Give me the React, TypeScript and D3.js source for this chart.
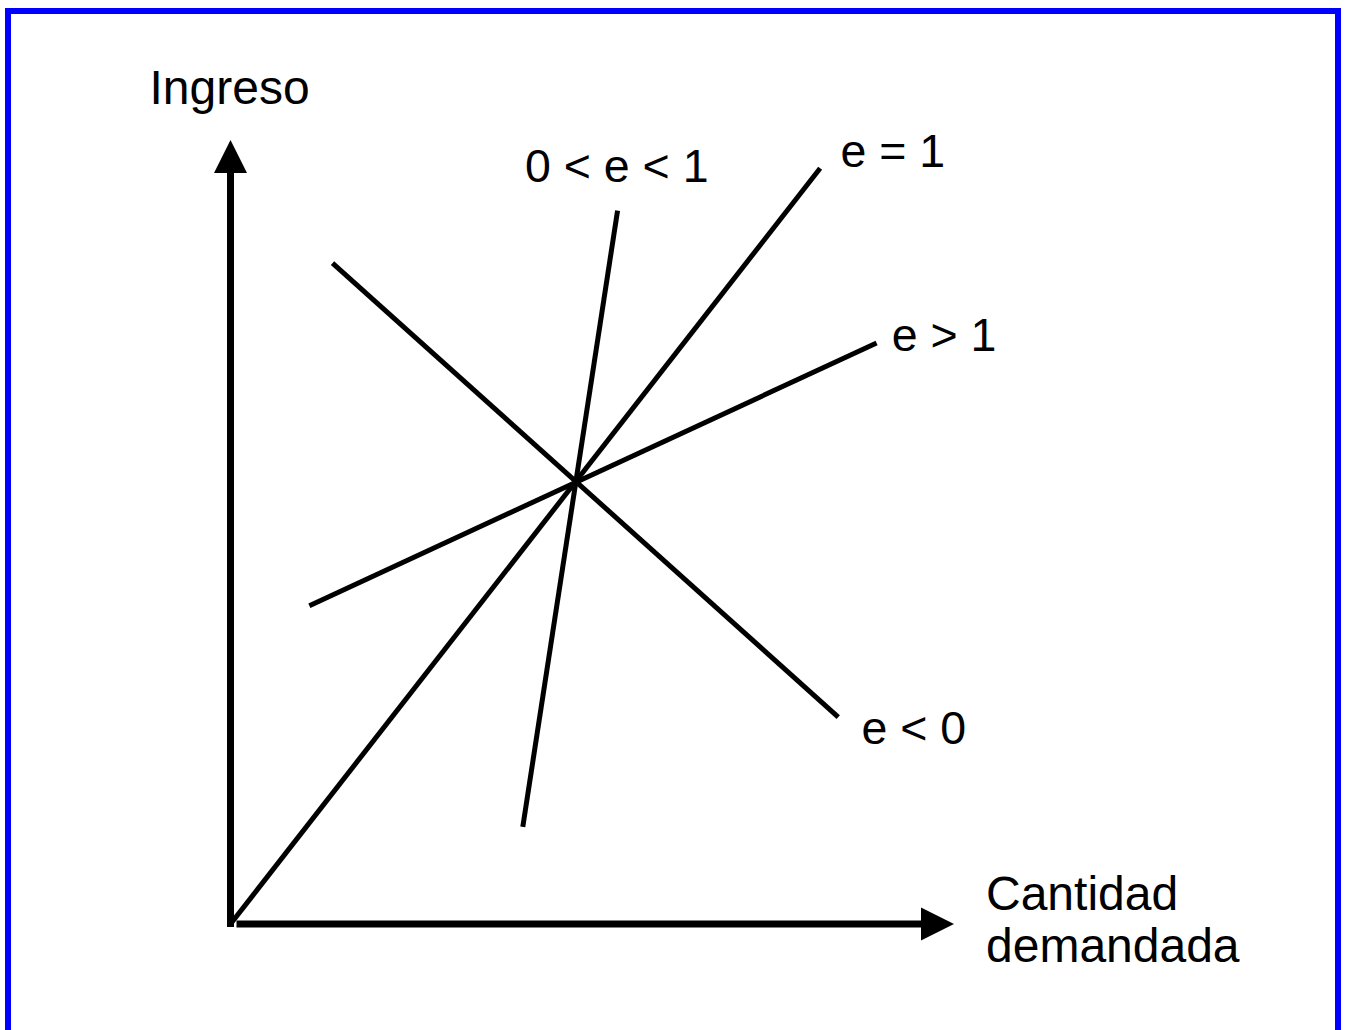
import React, { useEffect, useRef } from "react";
import * as d3 from "d3";

// curve names and their two end points, in axis units (0..100)
const curveNames = ["e < 0", "0 < e < 1", "e = 1", "e > 1"];
const curveStart = [[14.1, 84.3], [40.4, 12.4], [0, 0], [10.9, 40.6]];
const curveEnd = [[84.0, 26.4], [53.5, 91.0], [81.5, 96.4], [89.3, 74.1]];
// where each label sits (left end of the text baseline)
const labelPos = [[87.2, 23.0], [40.7, 94.7], [84.3, 96.6], [91.4, 73.1]];

const yTitle = "Ingreso";
const xTitle = ["Cantidad", "demandada"];

export default function App() {
  const ref = useRef<SVGSVGElement>(null);

  useEffect(() => {
    const width = 1346;
    const height = 1030;
    const svg = d3.select(ref.current).attr("width", width).attr("height", height);
    svg.selectAll("*").remove();

    // origin of the axes and arrow tips in pixels
    const x = d3.scaleLinear().domain([0, 100]).range([230.5, 954]);
    const y = d3.scaleLinear().domain([0, 100]).range([924, 140]);

    // blue frame
    svg.append("rect")
      .attr("x", 8).attr("y", 11)
      .attr("width", 1330).attr("height", 1040)
      .attr("fill", "white")
      .attr("stroke", "#0000ff")
      .attr("stroke-width", 6);

    const font = "'Liberation Sans', Arial, sans-serif";

    // axes
    svg.append("line")
      .attr("x1", x(0)).attr("y1", y(0) + 3)
      .attr("x2", x(0)).attr("y2", y(96))
      .attr("stroke", "black").attr("stroke-width", 7);
    svg.append("line")
      .attr("x1", x(0) + 6).attr("y1", y(0))
      .attr("x2", x(96)).attr("y2", y(0))
      .attr("stroke", "black").attr("stroke-width", 7);

    // arrow heads
    const yTip = [x(0), y(100)];
    svg.append("path")
      .attr("d", `M${yTip[0]},${yTip[1]} L${yTip[0] - 16.5},${yTip[1] + 33} L${yTip[0] + 16.5},${yTip[1] + 33} Z`)
      .attr("fill", "black");
    const xTip = [x(100), y(0)];
    svg.append("path")
      .attr("d", `M${xTip[0]},${xTip[1]} L${xTip[0] - 33},${xTip[1] - 16.5} L${xTip[0] - 33},${xTip[1] + 16.5} Z`)
      .attr("fill", "black");

    // the four income-demand lines
    const line = d3.line<number[]>().x(d => x(d[0])).y(d => y(d[1]));
    svg.selectAll(".curve")
      .data(curveNames.map((n, i) => [curveStart[i], curveEnd[i]]))
      .join("path")
      .attr("class", "curve")
      .attr("d", d => line(d))
      .attr("fill", "none")
      .attr("stroke", "black")
      .attr("stroke-width", 5);

    svg.selectAll(".curve-label")
      .data(curveNames)
      .join("text")
      .attr("class", "curve-label")
      .attr("x", (d, i) => x(labelPos[i][0]))
      .attr("y", (d, i) => y(labelPos[i][1]))
      .attr("font-family", font)
      .attr("font-size", 46.5)
      .attr("fill", "black")
      .text(d => d);

    // axis titles
    svg.append("text")
      .attr("x", 149.5).attr("y", 104)
      .attr("font-family", font).attr("font-size", 48)
      .text(yTitle);

    svg.selectAll(".x-title")
      .data(xTitle)
      .join("text")
      .attr("class", "x-title")
      .attr("x", 986)
      .attr("y", (d, i) => 910 + i * 52)
      .attr("font-family", font).attr("font-size", 48)
      .text(d => d);
  }, []);

  return <svg ref={ref} style={{ position: "absolute", left: 0, top: 0 }}></svg>;
}
